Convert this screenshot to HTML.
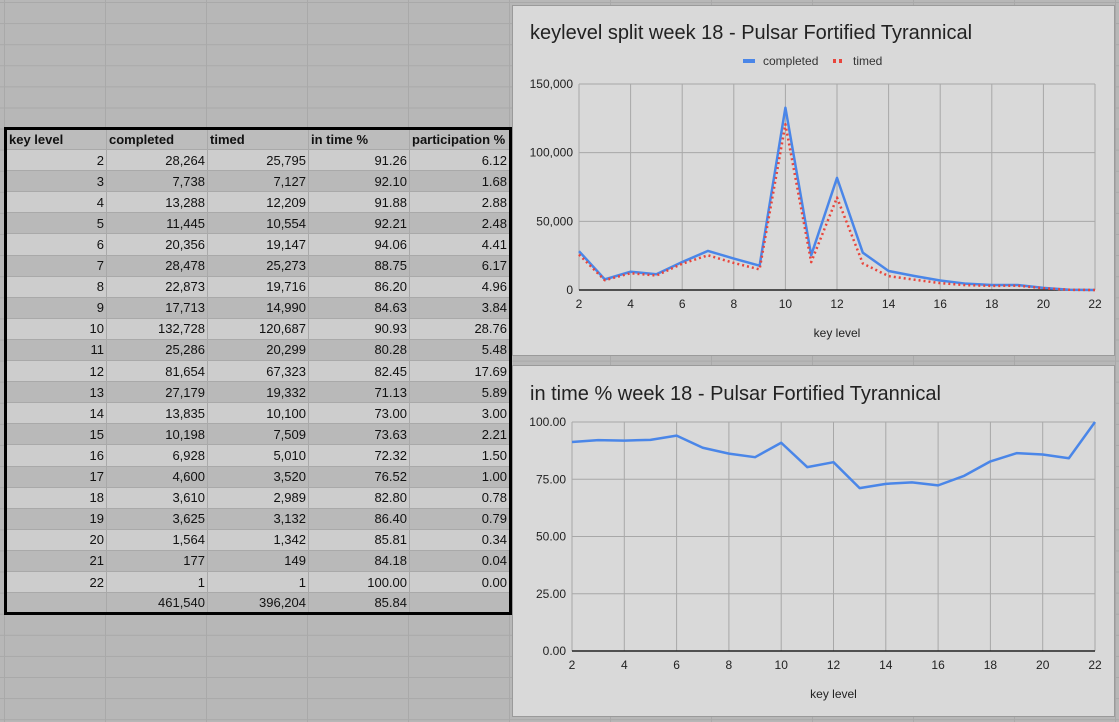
<!DOCTYPE html>
<html><head><meta charset="utf-8">
<style>
body{margin:0;width:1119px;height:722px;overflow:hidden;font-family:"Liberation Sans",Arial,sans-serif;
background-color:#b7b7b7;
background-image:linear-gradient(#a9a9a9 1px,transparent 1px),linear-gradient(90deg,#a9a9a9 1px,transparent 1px);
background-size:101px 21.1px;background-position:4px 2px,4px 0;position:relative}
table{position:absolute;left:4px;top:127px;border-collapse:collapse;border:3px solid #000;font-size:13px;table-layout:fixed;width:506px}
td{width:101px;height:21.1px;padding:0 2px;border:1px solid #a9a9a9;text-align:right;box-sizing:border-box;color:#111;white-space:nowrap;overflow:hidden;line-height:19px}
tr:nth-child(odd) td{background:#b9b9b9}
tr:nth-child(even) td{background:#cdcdcd}
tr.h td{font-weight:bold;text-align:left;background:#bcbcbc}
.chart{position:absolute;left:512px;width:601px;background:#d9d9d9;border:1px solid #9a9a9a}
</style></head><body>
<table id="tbl"><tbody>
<tr class="h"><td>key level</td><td>completed</td><td>timed</td><td>in time %</td><td>participation %</td></tr>
</tbody></table>
<svg class="chart" style="top:5px;height:349px" width="601" height="349" id="c1"></svg>
<svg class="chart" style="top:365px;height:350px" width="601" height="350" id="c2"></svg>
<script>
const levels=[2,3,4,5,6,7,8,9,10,11,12,13,14,15,16,17,18,19,20,21,22];
const completed=[28264,7738,13288,11445,20356,28478,22873,17713,132728,25286,81654,27179,13835,10198,6928,4600,3610,3625,1564,177,1];
const timed=[25795,7127,12209,10554,19147,25273,19716,14990,120687,20299,67323,19332,10100,7509,5010,3520,2989,3132,1342,149,1];
const inTime=[91.26,92.10,91.88,92.21,94.06,88.75,86.20,84.63,90.93,80.28,82.45,71.13,73.00,73.63,72.32,76.52,82.80,86.40,85.81,84.18,100.00];
const participation=[6.12,1.68,2.88,2.48,4.41,6.17,4.96,3.84,28.76,5.48,17.69,5.89,3.00,2.21,1.50,1.00,0.78,0.79,0.34,0.04,0.00];
const xTicks=[2,4,6,8,10,12,14,16,18,20,22];
const y1Ticks=[0,50000,100000,150000];
const y2Ticks=[0,25,50,75,100];
const totals=["461,540","396,204","85.84"];

const fmt=n=>n.toLocaleString('en-US');
const tb=document.querySelector('#tbl tbody');
levels.forEach((l,i)=>{
  const tr=document.createElement('tr');
  
  
  [l,fmt(completed[i]),fmt(timed[i]),inTime[i].toFixed(2),participation[i].toFixed(2)].forEach(v=>{const td=document.createElement('td');td.textContent=v;tr.appendChild(td);});
  tb.appendChild(tr);
});
const trt=document.createElement('tr');


['',...totals,''].forEach(v=>{const td=document.createElement('td');td.textContent=v;trt.appendChild(td);});
tb.appendChild(trt);

const NS='http://www.w3.org/2000/svg';
function el(svg,tag,attrs,text){const e=document.createElementNS(NS,tag);for(const k in attrs)e.setAttribute(k,attrs[k]);if(text!==undefined)e.textContent=text;svg.appendChild(e);return e;}

function chart(svg,o){
  const sx=v=>o.x0+(v-2)/20*(o.x1-o.x0);
  const sy=v=>o.y0-(v-o.ymin)/(o.ymax-o.ymin)*(o.y0-o.y1);
  el(svg,'text',{x:17,y:o.titleY,'font-size':20,fill:'#222'},o.title);
  xTicks.forEach(t=>{
    el(svg,'line',{x1:sx(t),x2:sx(t),y1:o.y1,y2:o.y0,stroke:'#a8a8a8'});
    const tx=el(svg,'text',{x:sx(t),y:o.y0+18,'font-size':12,'text-anchor':'middle',fill:'#222'},t);
    
  });
  o.yTicks.forEach(t=>{
    if(t!==o.ymin) el(svg,'line',{x1:o.x0,x2:o.x1,y1:sy(t),y2:sy(t),stroke:'#a8a8a8'});
    const ty=el(svg,'text',{x:o.x0-6,y:sy(t)+4,'font-size':12,'text-anchor':'end',fill:'#222'},o.fmt(t));
    
  });
  el(svg,'line',{x1:o.x0,x2:o.x1,y1:o.y0,y2:o.y0,stroke:'#222','stroke-width':1.5});
  el(svg,'text',{x:(o.x0+o.x1)/2,y:o.y0+47,'font-size':12,'text-anchor':'middle',fill:'#222'},'key level');
  o.series.forEach(s=>{
    const p=el(svg,'polyline',{points:levels.map((l,i)=>sx(l)+','+sy(s.data[i])).join(' '),fill:'none',stroke:s.color,'stroke-width':s.w,'stroke-dasharray':s.dash||'none','stroke-linejoin':'round'});
    
    
  });
}
const c1=document.getElementById('c1');
chart(c1,{title:'keylevel split week 18 - Pulsar Fortified Tyrannical',titleY:33,x0:66,x1:582,y0:284,y1:78,ymin:0,ymax:150000,yTicks:y1Ticks,fmt:fmt,
 series:[{name:'completed',data:completed,color:'#4a86e8',w:2.5},{name:'timed',data:timed,color:'#e8453c',w:2.5,dash:'2 3'}]});
const lg=[['completed','#4a86e8',null,230],['timed','#e8453c','3 3',320]];
lg.forEach(([n,c,d,x])=>{
  const l=el(c1,'line',{x1:x,x2:x+12,y1:55,y2:55,stroke:c,'stroke-width':4,'stroke-dasharray':d||'none'});
  
  const t=el(c1,'text',{x:x+20,y:59,'font-size':12,fill:'#333'},n);
  
  
});
chart(document.getElementById('c2'),{title:'in time % week 18 - Pulsar Fortified Tyrannical',titleY:34,x0:59,x1:582,y0:285,y1:56,ymin:0,ymax:100,yTicks:y2Ticks,fmt:t=>t.toFixed(2),
 series:[{name:'in-time-pct',data:inTime,color:'#4a86e8',w:2.5}]});
</script>
</body></html>
